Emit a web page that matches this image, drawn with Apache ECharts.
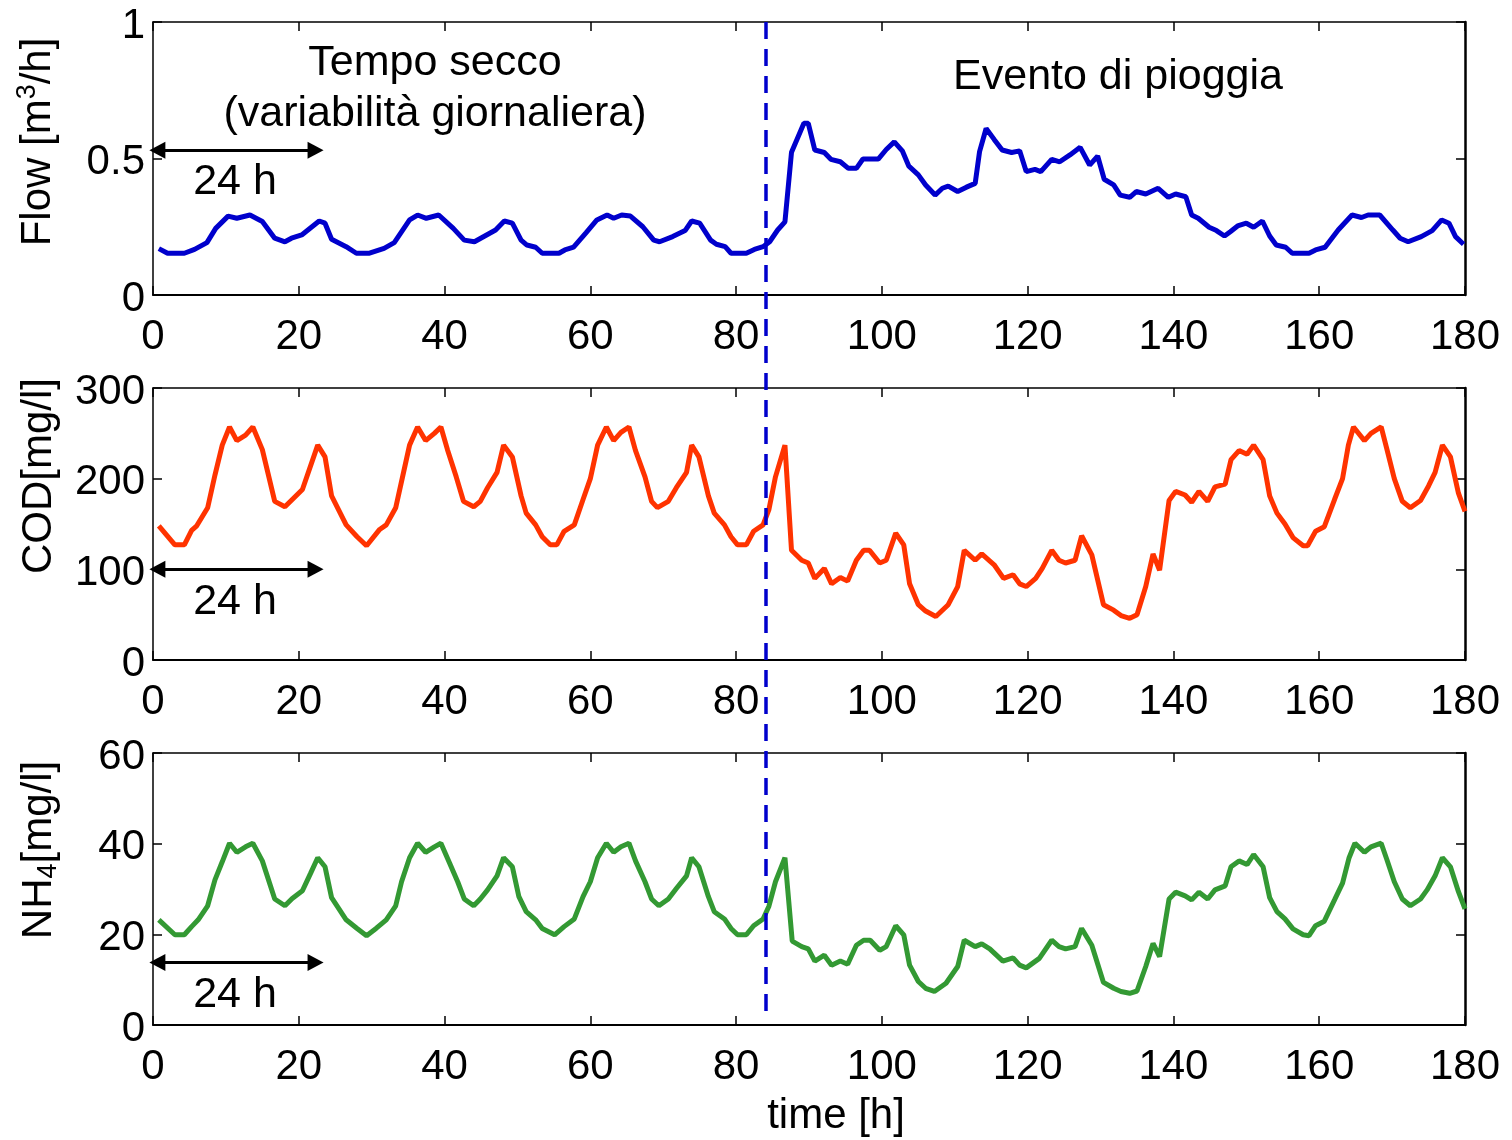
<!DOCTYPE html>
<html>
<head>
<meta charset="utf-8">
<script src="https://cdn.jsdelivr.net/npm/echarts@6/dist/echarts.min.js"></script>
<style>
html,body{margin:0;padding:0;background:#fff;}
#chart{width:1512px;height:1140px;}
</style>
</head>
<body>
<div id="chart"></div>
<script>
// ---------------- data ----------------
var flowT = [0.8,2.0,4.3,5.7,7.4,8.6,10.3,11.5,13.3,15.0,16.7,18.1,19.0,20.4,22.8,23.6,24.5,26.5,27.9,29.7,31.7,33.1,35.2,36.3,37.5,39.2,41.2,42.7,44.1,47.0,48.2,49.3,50.5,51.3,52.5,53.4,55.7,56.5,57.7,59.4,60.9,62.3,63.2,64.3,65.5,67.2,68.7,69.5,71.3,73.0,73.9,75.0,76.5,77.3,78.5,79.3,81.4,82.5,83.7,84.6,85.7,86.7,87.6,89.3,89.9,90.8,92.1,93.0,94.3,95.4,96.5,97.4,99.5,100.6,101.7,102.8,103.7,105.0,106.0,107.3,108.3,109.1,110.4,111.6,112.8,113.4,114.3,115.4,116.5,117.8,118.9,119.8,121.0,121.8,123.3,124.4,125.8,127.2,128.5,129.6,130.5,131.8,132.7,134.0,134.9,136.2,137.9,139.3,140.3,141.7,142.5,143.4,144.9,145.9,147.0,147.8,148.8,150.0,151.0,152.2,153.2,154.1,155.4,156.3,158.6,159.5,160.8,162.6,164.5,165.8,166.7,168.3,170.1,171.1,172.2,174.0,175.5,176.8,177.8,178.7,179.8];
var flowV = [0.170,0.153,0.153,0.167,0.192,0.244,0.289,0.281,0.293,0.269,0.208,0.195,0.208,0.220,0.271,0.263,0.204,0.177,0.153,0.153,0.171,0.192,0.275,0.293,0.281,0.293,0.244,0.201,0.195,0.238,0.271,0.263,0.201,0.183,0.175,0.153,0.153,0.165,0.175,0.228,0.275,0.293,0.281,0.293,0.289,0.250,0.201,0.195,0.214,0.236,0.271,0.263,0.201,0.186,0.177,0.153,0.153,0.167,0.177,0.195,0.238,0.268,0.523,0.629,0.629,0.531,0.522,0.497,0.488,0.464,0.464,0.498,0.498,0.533,0.561,0.528,0.472,0.440,0.403,0.366,0.391,0.399,0.379,0.395,0.409,0.525,0.610,0.570,0.531,0.522,0.528,0.452,0.460,0.452,0.497,0.488,0.513,0.541,0.476,0.509,0.424,0.403,0.366,0.358,0.379,0.370,0.391,0.358,0.370,0.360,0.293,0.281,0.248,0.236,0.216,0.232,0.253,0.263,0.248,0.271,0.216,0.183,0.175,0.153,0.153,0.165,0.175,0.238,0.293,0.284,0.293,0.293,0.238,0.208,0.195,0.214,0.236,0.275,0.263,0.214,0.186];

var codT = [0.8,3.0,4.3,5.3,6.0,7.5,8.5,9.5,10.5,11.5,12.7,13.7,15.0,16.7,18.1,20.5,22.6,23.6,24.5,26.5,28.0,29.3,31.1,32.0,33.3,34.1,35.2,36.3,37.4,38.6,39.5,40.4,41.6,42.6,44.0,44.9,45.9,47.2,48.1,49.3,50.5,51.2,52.5,53.4,54.5,55.4,56.4,57.8,59.0,60.0,61.0,62.2,63.2,64.2,65.3,66.2,67.5,68.4,69.2,70.7,71.8,73.2,73.9,74.9,76.2,77.0,78.4,79.3,80.2,81.4,82.4,83.7,84.5,85.4,86.7,87.6,89.0,89.9,90.8,92.1,93.1,94.3,95.3,96.5,97.5,98.3,99.7,100.6,101.9,103.0,103.8,105.0,106.0,107.4,109.1,110.4,111.3,112.8,113.7,115.4,116.7,118.0,118.9,119.8,121.1,122.0,123.3,124.3,125.2,126.5,127.4,128.8,130.4,131.8,132.8,134.0,135.0,136.2,137.2,138.1,139.4,140.3,141.6,142.5,143.5,144.7,145.7,147.1,147.9,149.0,150.1,151.0,152.3,153.2,154.2,155.3,156.4,157.8,158.4,159.5,160.7,162.1,163.2,164.0,164.7,166.2,167.1,168.5,169.3,170.3,171.4,172.5,173.9,175.0,175.9,176.9,178.0,179.1,180.0];
var codV = [148,127,127,143,148,168,204,237,257,242,248,257,232,175,169,188,237,224,181,149,136,126,144,149,168,197,237,257,242,250,257,232,202,175,169,175,190,207,237,224,181,162,149,136,127,127,142,149,177,200,237,257,242,251,257,231,202,175,168,175,190,207,237,224,181,162,149,136,127,127,142,149,166,202,237,121,110,107,90,101,84,91,87,110,121,121,107,110,140,127,84,61,54,48,61,81,121,110,117,105,90,94,84,81,90,101,121,110,107,110,137,116,61,55,49,46,50,81,117,99,176,186,182,174,186,175,191,194,221,231,227,237,221,181,162,150,135,126,126,142,147,177,200,237,257,242,250,257,232,200,175,168,176,192,207,237,224,184,164];

var nh4T = [0.8,3.0,4.3,5.3,6.2,7.5,8.5,9.5,10.5,11.5,12.7,13.7,15.0,16.7,18.1,19.1,20.5,21.6,22.6,23.6,24.5,26.5,28.0,29.3,30.6,32.0,33.3,34.1,35.2,36.3,37.4,38.6,39.5,40.7,41.8,42.7,44.0,44.9,45.9,47.2,48.1,49.3,50.2,51.2,52.5,53.4,55.1,56.4,57.8,59.0,60.0,61.0,62.2,63.2,64.2,65.3,66.2,67.5,68.4,69.4,70.7,71.8,73.2,73.9,74.9,76.2,77.0,78.4,79.3,80.2,81.4,82.4,83.7,84.5,85.4,86.7,87.7,89.0,89.9,90.8,92.1,93.1,94.3,95.3,96.5,97.5,98.4,99.7,100.6,101.9,103.0,103.8,105.0,106.0,107.2,108.8,110.4,111.3,112.8,113.7,114.8,116.6,118.0,118.9,119.8,121.6,123.3,124.3,125.2,126.5,127.4,128.8,130.4,131.8,132.8,134.0,135.0,136.2,137.2,138.1,139.4,140.3,141.6,142.5,143.5,144.7,145.7,147.1,147.9,149.0,150.1,151.0,152.3,153.2,154.2,155.3,156.4,157.8,158.6,159.5,160.7,162.1,163.2,164.1,164.9,166.2,167.1,168.5,169.3,170.3,171.4,172.5,173.9,174.8,175.9,176.9,178.0,179.1,180.0];
var nh4V = [23.2,19.9,19.9,21.7,23.2,26.3,32.0,36.0,40.1,38.1,39.3,40.1,36.2,27.8,26.3,27.9,29.6,33.4,36.9,34.9,28.1,23.2,21.3,19.7,21.3,23.2,26.3,31.6,36.9,40.1,38.1,39.3,40.1,35.7,31.6,27.8,26.3,27.8,29.8,32.9,36.9,34.9,28.3,25.0,23.2,21.3,19.9,21.7,23.4,28.3,31.6,36.9,40.1,38.1,39.3,40.1,36.2,31.6,27.8,26.3,27.8,30.1,32.9,36.9,34.9,28.3,25.0,23.4,21.3,19.9,19.9,21.9,23.4,26.2,31.6,36.9,18.5,17.3,16.8,14.1,15.4,13.2,14.1,13.4,17.6,18.7,18.7,16.5,17.3,21.9,19.9,13.2,9.6,8.1,7.4,9.2,12.9,18.7,17.3,17.9,16.8,14.1,14.8,13.2,12.6,14.7,18.7,17.3,16.8,17.3,21.3,17.6,9.4,8.1,7.4,7.0,7.5,12.9,18.0,15.1,27.8,29.3,28.5,27.6,29.3,27.8,29.8,30.7,34.9,36.2,35.4,37.6,34.9,28.1,25.0,23.4,21.2,19.9,19.7,21.9,22.9,27.6,31.3,36.9,40.1,38.1,39.3,40.1,36.4,31.6,27.8,26.3,27.8,29.8,32.9,36.9,34.9,29.4,25.6];

// axes
var xTicks = [0, 180, 20];          // min, max, interval
var flowAxis = [0, 1, 0.5];
var codAxis = [0, 300, 100];
var nh4Axis = [0, 60, 20];

// annotations
var rainStart = 84.1;              // start of the rain event [h]
var dashBottomNH4 = 2.0;           // where the dashed line stops in panel 3
var dayArrow = [0.6, 22.3];        // the "24 h" double arrow span [h]
var arrowLevels = [0.53, 100, 13.8];
var texts = {
  dry1: 'Tempo secco',
  dry2: '(variabilità giornaliera)',
  rain: 'Evento di pioggia',
  day: '24 h',
  xName: 'time [h]'
};

// ---------------- chart ----------------
var FONT = '"Liberation Sans", Arial, sans-serif';
function zip(a, b) { return a.map(function (t, i) { return [t, b[i]]; }); }

var grids = [
  {left: 153, right: 47, top: 22, height: 273},
  {left: 153, right: 47, top: 388, height: 272},
  {left: 153, right: 47, top: 753, height: 272}
];
var yRanges = [flowAxis, codAxis, nh4Axis];

var xAxes = [], yAxes = [];
for (var g = 0; g < 3; g++) {
  var axLine = {show: true, onZero: false, lineStyle: {color: '#000', width: 2}};
  var tick = {show: true, inside: true, length: 9, lineStyle: {color: '#000', width: 1.5}};
  xAxes.push({
    gridIndex: g, type: 'value', position: 'bottom',
    min: xTicks[0], max: xTicks[1], interval: xTicks[2],
    axisLine: axLine, axisTick: tick, splitLine: {show: false},
    axisLabel: {color: '#000', fontSize: 42, fontFamily: FONT, margin: 21}
  });
  xAxes.push({
    gridIndex: g, type: 'value', position: 'top',
    min: xTicks[0], max: xTicks[1], interval: xTicks[2],
    axisLine: {show: true, onZero: false, lineStyle: {color: '#000', width: 1.5}},
    axisTick: tick, splitLine: {show: false},
    axisLabel: {show: false}
  });
  var r = yRanges[g];
  yAxes.push({
    gridIndex: g, type: 'value', position: 'left',
    min: r[0], max: r[1], interval: r[2],
    axisLine: {show: true, onZero: false, lineStyle: {color: '#000', width: 1.5}},
    axisTick: tick, splitLine: {show: false},
    axisLabel: {color: '#000', fontSize: 42, fontFamily: FONT, margin: 8,
      verticalAlign: 'top', lineHeight: 8}
  });
  yAxes.push({
    gridIndex: g, type: 'value', position: 'right',
    min: r[0], max: r[1], interval: r[2],
    axisLine: {show: true, onZero: false, lineStyle: {color: '#000', width: 2.5}},
    axisTick: tick, splitLine: {show: false},
    axisLabel: {show: false}
  });
}

function arrowLine(level) {
  return {
    silent: true,
    symbol: ['triangle', 'triangle'],
    symbolSize: [17, 16],
    label: {show: false},
    lineStyle: {color: '#000', width: 3, type: 'solid'},
    emphasis: {disabled: true},
    data: [[{coord: [dayArrow[0], level]}, {coord: [dayArrow[1], level]}]]
  };
}

var series = [
  {type: 'line', xAxisIndex: 0, yAxisIndex: 0, data: zip(flowT, flowV), showSymbol: false,
   lineStyle: {color: '#0000CC', width: 5}, itemStyle: {color: '#0000CC'}, clip: false,
   markLine: arrowLine(arrowLevels[0])},
  {type: 'line', xAxisIndex: 2, yAxisIndex: 2, data: zip(codT, codV), showSymbol: false,
   lineStyle: {color: '#FF3300', width: 5}, itemStyle: {color: '#FF3300'}, clip: false,
   markLine: arrowLine(arrowLevels[1])},
  {type: 'line', xAxisIndex: 4, yAxisIndex: 4, data: zip(nh4T, nh4V), showSymbol: false,
   lineStyle: {color: '#339933', width: 5}, itemStyle: {color: '#339933'}, clip: false,
   markLine: arrowLine(arrowLevels[2])}
];

var chart = echarts.init(document.getElementById('chart'), null, {renderer: 'canvas'});
chart.setOption({
  animation: false,
  backgroundColor: '#fff',
  grid: grids,
  xAxis: xAxes,
  yAxis: yAxes,
  series: series
});

// ---------- overlay: dashed rain line and texts ----------
var xRain = chart.convertToPixel({xAxisIndex: 0}, rainStart);
var yTop = chart.convertToPixel({yAxisIndex: 0}, flowAxis[1]);
var yBot = chart.convertToPixel({yAxisIndex: 4}, dashBottomNH4);

function txt(str, x, y, size) {
  return {type: 'text', x: x, y: y, z: 100, silent: true,
    style: {text: str, fill: '#000', font: (size || 43) + 'px ' + FONT,
      textAlign: 'center', textVerticalAlign: 'middle'}};
}
var richLab = {
  sup: {fontSize: 27, fontFamily: FONT, verticalAlign: 'top', lineHeight: 27, fill: '#000'},
  sub: {fontSize: 27, fontFamily: FONT, verticalAlign: 'bottom', lineHeight: 27, fill: '#000'},
  n: {fontSize: 42, fontFamily: FONT, lineHeight: 47, fill: '#000'}
};
function yName(str, x, y) {
  return {type: 'text', x: x, y: y, rotation: Math.PI / 2, z: 100, silent: true,
    style: {text: str, rich: richLab, align: 'center', verticalAlign: 'middle', fill: '#000',
      font: '42px ' + FONT}};
}

chart.setOption({
  graphic: [
    {type: 'line', z: 50, silent: true,
     shape: {x1: xRain, y1: yTop, x2: xRain, y2: yBot},
     style: {stroke: '#0000CC', lineWidth: 3.5, lineDash: [17, 10]}},
    txt(texts.dry1, 435, 63),
    txt(texts.dry2, 435, 114),
    txt(texts.rain, 1118, 77),
    txt(texts.day, 235, 182),
    txt(texts.day, 235, 602),
    txt(texts.day, 235, 995),
    txt(texts.xName, 836, 1116, 42),
    yName('{n|Flow [m}{sup|3}{n|/h]}', 38, 142),
    yName('{n|COD[mg/l]}', 39, 476),
    yName('{n|NH}{sub|4}{n|[mg/l]}', 39, 850)
  ]
});
</script>
</body>
</html>
